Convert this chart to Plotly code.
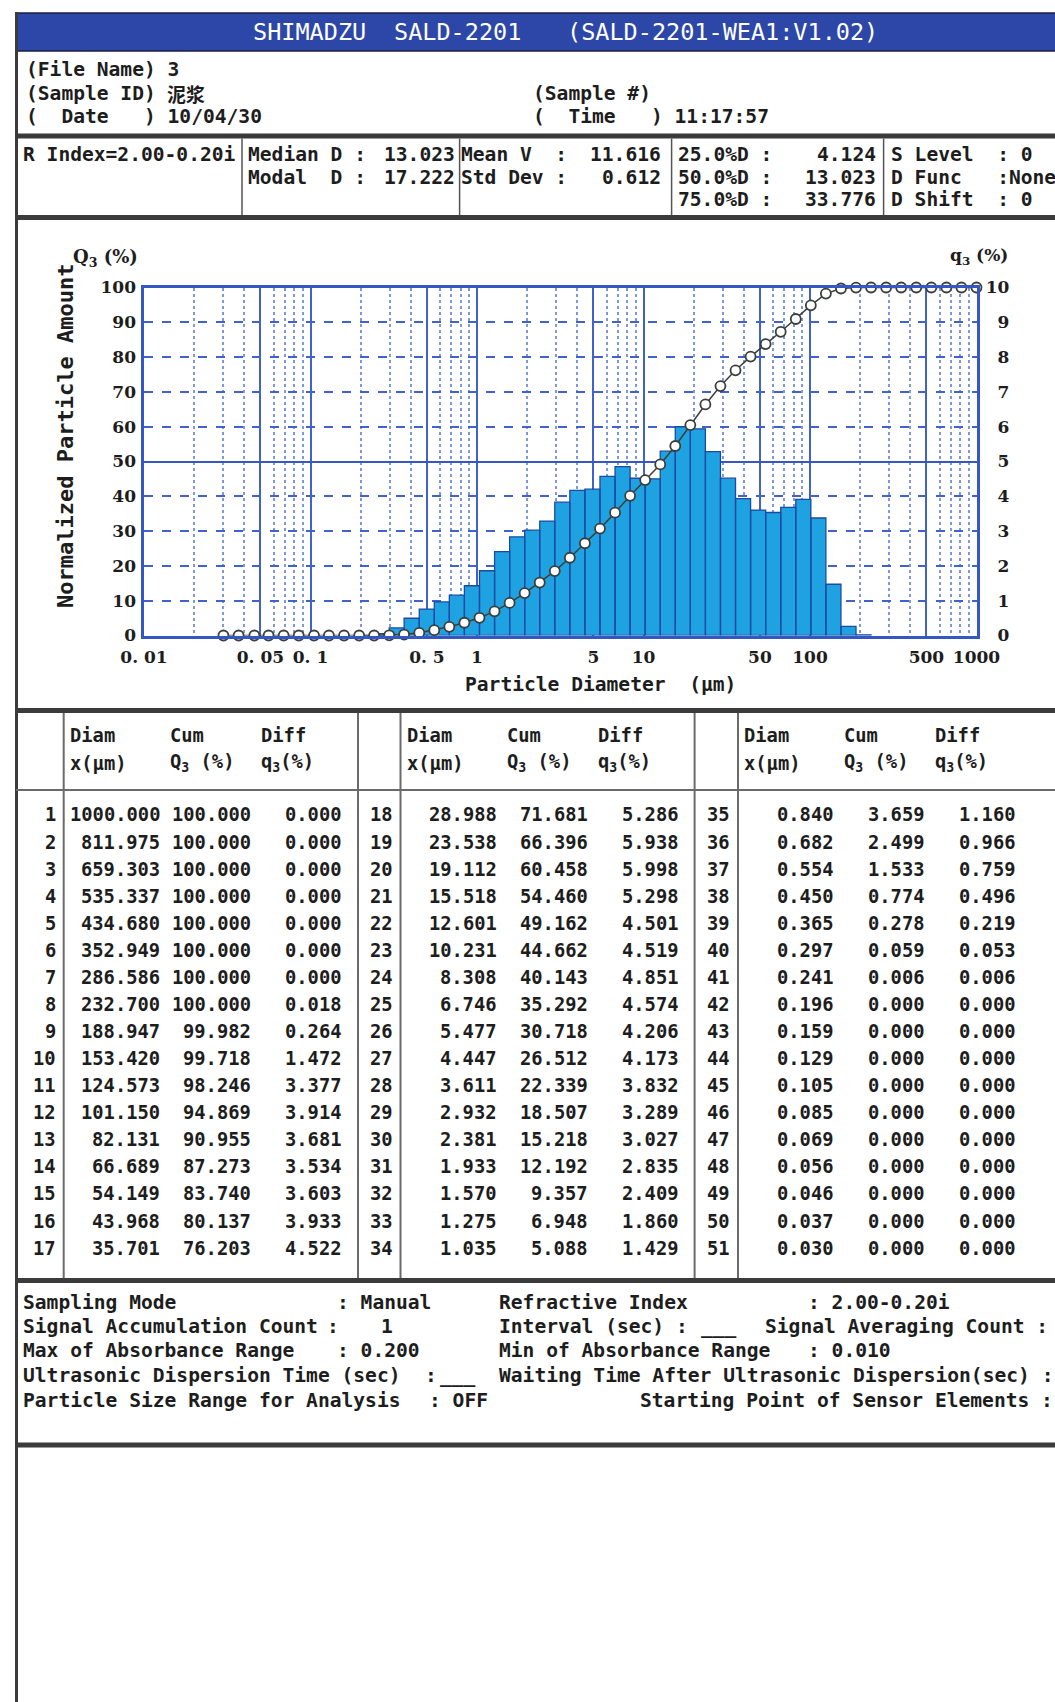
import plotly.graph_objects as go

# ------------------------------------------------------------------
# Particle size distribution, 51 channels (largest to smallest)
# ------------------------------------------------------------------
diam = [1000.000, 811.975, 659.303, 535.337, 434.680, 352.949, 286.586, 232.700, 188.947,
        153.420, 124.573, 101.150, 82.131, 66.689, 54.149, 43.968, 35.701,
        28.988, 23.538, 19.112, 15.518, 12.601, 10.231, 8.308, 6.746, 5.477,
        4.447, 3.611, 2.932, 2.381, 1.933, 1.570, 1.275, 1.035,
        0.840, 0.682, 0.554, 0.450, 0.365, 0.297, 0.241, 0.196, 0.159,
        0.129, 0.105, 0.085, 0.069, 0.056, 0.046, 0.037, 0.030]
cum_q3 = [100.000, 100.000, 100.000, 100.000, 100.000, 100.000, 100.000, 100.000, 99.982,
          99.718, 98.246, 94.869, 90.955, 87.273, 83.740, 80.137, 76.203,
          71.681, 66.396, 60.458, 54.460, 49.162, 44.662, 40.143, 35.292, 30.718,
          26.512, 22.339, 18.507, 15.218, 12.192, 9.357, 6.948, 5.088,
          3.659, 2.499, 1.533, 0.774, 0.278, 0.059, 0.006, 0.000, 0.000,
          0.000, 0.000, 0.000, 0.000, 0.000, 0.000, 0.000, 0.000]
diff_q3 = [0.000, 0.000, 0.000, 0.000, 0.000, 0.000, 0.000, 0.018, 0.264,
           1.472, 3.377, 3.914, 3.681, 3.534, 3.603, 3.933, 4.522,
           5.286, 5.938, 5.998, 5.298, 4.501, 4.519, 4.851, 4.574, 4.206,
           4.173, 3.832, 3.289, 3.027, 2.835, 2.409, 1.860, 1.429,
           1.160, 0.966, 0.759, 0.496, 0.219, 0.053, 0.006, 0.000, 0.000,
           0.000, 0.000, 0.000, 0.000, 0.000, 0.000, 0.000, 0.000]

x_tick_vals = [0.01, 0.05, 0.1, 0.5, 1, 5, 10, 50, 100, 500, 1000]
x_tick_text = ["0. 01", "0. 05", "0. 1", "0. 5", "1", "5", "10", "50", "100", "500", "1000"]
cum_tick_vals = [0, 10, 20, 30, 40, 50, 60, 70, 80, 90, 100]
diff_tick_vals = [0, 1, 2, 3, 4, 5, 6, 7, 8, 9, 10]

# Report header fields
title_parts = ["SHIMADZU", "SALD-2201", "(SALD-2201-WEA1:V1.02)"]
file_name = "3"
sample_id = "泥浆"
run_date = "10/04/30"
run_time = "11:17:57"
r_index = "2.00-0.20i"
median_d, modal_d = "13.023", "17.222"
mean_v, std_dev = "11.616", "0.612"
pct_labels = ["25.0%D", "50.0%D", "75.0%D"]
pct_values = ["4.124", "13.023", "33.776"]

# ------------------------------------------------------------------
# Page geometry helpers (pixel -> paper)
# ------------------------------------------------------------------
W, H = 1055, 1702
MONO = "DejaVu Sans Mono"
SERIF = "DejaVu Serif"
CJK = "Noto Sans CJK SC"

INK = "#1d1d1d"
BLUE_BAR = "#2d47a8"
AXIS = "#3557c4"
GRID = "#3f62cc"
GRID_MINOR = "#7f97e0"
BAR = "#1ea2e2"
BAR_EDGE = "#1b4aa0"
CURVE = "#3a3f3c"
RULE = "#3b3b3b"
THIN = "#6a6a6a"


def fx(x):
    return x / W


def fy(y):
    return 1 - y / H


annotations = []
shapes = []


def label(x, y, s, size=19.6, family=MONO, anchor="left", color=INK, angle=0, weight="bold"):
    if "<" not in s:
        s = s.replace(" ", "\u00a0")
    annotations.append(dict(
        xref="paper", yref="paper", x=fx(x), y=fy(y), text=s, showarrow=False,
        xanchor=anchor, yanchor="middle", borderpad=0, textangle=angle,
        font=dict(family=family, size=size, color=color, weight=weight)))


def hrule(y, x0, x1, w, c):
    shapes.append(dict(type="line", xref="paper", yref="paper", x0=fx(x0), x1=fx(x1),
                       y0=fy(y), y1=fy(y), line=dict(color=c, width=w)))


def vrule(x, y0, y1, w, c):
    shapes.append(dict(type="line", xref="paper", yref="paper", x0=fx(x), x1=fx(x),
                       y0=fy(y0), y1=fy(y1), line=dict(color=c, width=w)))


# ------------------------------------------------------------------
# Frame: title bar, separators, cell rules
# ------------------------------------------------------------------
shapes.append(dict(type="rect", xref="paper", yref="paper", x0=fx(16), x1=fx(1060),
                   y0=fy(51), y1=fy(13), fillcolor=BLUE_BAR,
                   line=dict(color="#1c1f40", width=1.5)))
vrule(16.5, 12, H, 3, RULE)
for y in [136, 217.5, 710.5, 1280.5, 1445]:
    hrule(y, 16, W, 5, RULE)
for x in [242, 459.6, 671.6, 883.6]:
    vrule(x, 138.5, 215, 1.5, "#555555")
hrule(790, 16, W, 2, THIN)
for x in [63.7, 358, 400.5, 694.6, 738]:
    vrule(x, 713, 1278, 2, THIN)

# Title bar text
for xpos, part in zip([252, 393, 566], title_parts):
    label(xpos, 31.5, part, size=23.5, family=MONO, color="white", weight="normal")

# File information
label(25, 70, f"(File Name) {file_name}")
label(25, 93, "(Sample ID)")
label(166, 93, sample_id, size=19, family=CJK)
label(25, 116, f"(  Date   ) {run_date}")
label(532, 93, "(Sample #)")
label(532, 116, f"(  Time   ) {run_time}")

# Summary statistics
label(22, 155, f"R Index={r_index}")
label(247, 155, "Median D :")
label(456, 155, median_d, anchor="right")
label(247, 177, "Modal  D :")
label(456, 177, modal_d, anchor="right")
label(460, 155, "Mean V  :")
label(662, 155, mean_v, anchor="right")
label(460, 177, "Std Dev :")
label(662, 177, std_dev, anchor="right")
for k, (pl, pv) in enumerate(zip(pct_labels, pct_values)):
    yk = [155, 177, 200][k]
    label(677, yk, f"{pl} :")
    label(877, yk, pv, anchor="right")
label(890, 155, "S Level  : 0")
label(890, 177, "D Func   :None")
label(890, 200, "D Shift  : 0")

# ------------------------------------------------------------------
# Distribution chart
# ------------------------------------------------------------------
bars_x, bars_y = [], []
for i in range(len(diam) - 1):
    if diff_q3[i] > 0:
        lo, hi, h = diam[i + 1], diam[i], diff_q3[i]
        bars_x += [lo, lo, hi, hi, lo, None]
        bars_y += [0, h, h, 0, 0, None]

fig = go.Figure()
fig.add_trace(go.Scatter(
    x=bars_x, y=bars_y, xaxis="x", yaxis="y", mode="lines", fill="toself",
    fillcolor=BAR, line=dict(color=BAR_EDGE, width=1.3), hoverinfo="skip"))
fig.add_trace(go.Scatter(
    x=diam, y=cum_q3, xaxis="x", yaxis="y2", mode="lines+markers",
    line=dict(color=CURVE, width=1.5),
    marker=dict(size=10, color="white", line=dict(color=CURVE, width=1.8)),
    cliponaxis=False, hoverinfo="skip"))
# carrier for the solid mid-scale rule
fig.add_trace(go.Scatter(x=[None], y=[None], xaxis="x", yaxis="y3", hoverinfo="skip"))

minor_vals = [m * 10.0 ** k for k in range(-2, 3) for m in (2, 3, 4, 6, 7, 8, 9)]
tick_font = dict(family=SERIF, size=17, color=INK, weight="bold")
ydom = [fy(635.5), fy(287.5)]

fig.update_layout(
    width=W, height=H, margin=dict(l=0, r=0, t=0, b=0, pad=0, autoexpand=False),
    paper_bgcolor="white", plot_bgcolor="white", showlegend=False,
    xaxis=dict(
        type="log", domain=[fx(144), fx(976.5)], range=[-2, 3], automargin=False,
        tickmode="array", tickvals=x_tick_vals, ticktext=x_tick_text, tickfont=tick_font,
        ticks="", ticklabelstandoff=4,
        showgrid=True, gridcolor=GRID, gridwidth=2,
        minor=dict(tickmode="array", tickvals=minor_vals, showgrid=True,
                   gridcolor=GRID_MINOR, griddash="dot", gridwidth=1.5, ticks=""),
        showline=True, mirror=True, linecolor=AXIS, linewidth=2.5, zeroline=False),
    yaxis=dict(
        domain=ydom, range=[0, 10], side="right", automargin=False,
        tickmode="array", tickvals=diff_tick_vals,
        ticktext=[("\u2007" + str(v)) if v < 10 else str(v) for v in diff_tick_vals],
        tickfont=tick_font, ticks="", ticklabelstandoff=3,
        showgrid=True, gridcolor=GRID, griddash="dash", gridwidth=1.5,
        showline=True, mirror=True, linecolor=AXIS, linewidth=2.5, zeroline=False),
    yaxis2=dict(
        overlaying="y", side="left", range=[0, 100], anchor="x", automargin=False,
        tickmode="array", tickvals=cum_tick_vals, tickfont=tick_font,
        ticks="", ticklabelstandoff=7, showgrid=False, zeroline=False, showline=False),
    yaxis3=dict(
        overlaying="y", side="left", range=[0, 10], anchor="x", automargin=False,
        tickmode="array", tickvals=[5], showticklabels=False, ticks="",
        showgrid=True, gridcolor=AXIS, gridwidth=2, zeroline=False, showline=False),
)

label(72, 258, "Q<sub>3</sub> (%)", size=18, family=SERIF)
label(949, 257, "q<sub>3</sub> (%)", size=17, family=SERIF)
label(65, 436, "Normalized Particle Amount", size=22, angle=-90, anchor="center")
label(600, 684, "Particle Diameter  (μm)", size=19.6, anchor="center")

# ------------------------------------------------------------------
# Data table (three blocks of 17 rows)
# ------------------------------------------------------------------
TSIZE = 18.8
for b in range(3):
    off = 337 * b
    label(69 + off, 735, "Diam", size=TSIZE)
    label(169 + off, 735, "Cum", size=TSIZE)
    label(260 + off, 735, "Diff", size=TSIZE)
    label(69 + off, 763, "x(μm)", size=TSIZE)
    label(169 + off, 763, "Q<sub>3</sub> (%)", size=TSIZE)
    label(260 + off, 763, "q<sub>3</sub>(%)", size=TSIZE)

for i in range(len(diam)):
    b, r = divmod(i, 17)
    off = 337 * b
    y = 815 + r * 27.07
    label(57 + off, y, str(i + 1), size=TSIZE, anchor="right")
    label(161 + off, y, f"{diam[i]:.3f}", size=TSIZE, anchor="right")
    label(252 + off, y, f"{cum_q3[i]:.3f}", size=TSIZE, anchor="right")
    label(343 + off, y, f"{diff_q3[i]:.3f}", size=TSIZE, anchor="right")

# ------------------------------------------------------------------
# Measurement conditions
# ------------------------------------------------------------------
rows_y = [1302, 1326, 1350.5, 1375.5, 1400.5]
label(22, rows_y[0], "Sampling Mode")
label(336, rows_y[0], ": Manual")
label(22, rows_y[1], "Signal Accumulation Count")
label(326, rows_y[1], ":")
label(380, rows_y[1], "1")
label(22, rows_y[2], "Max of Absorbance Range")
label(336, rows_y[2], ": 0.200")
label(22, rows_y[3], "Ultrasonic Dispersion Time (sec)")
label(424, rows_y[3], ":")
label(439, rows_y[3], "___")
label(22, rows_y[4], "Particle Size Range for Analysis")
label(428, rows_y[4], ": OFF")

label(498, rows_y[0], "Refractive Index")
label(807, rows_y[0], f": {r_index}")
label(498, rows_y[1], "Interval (sec) :")
label(700, rows_y[1], "___")
label(764, rows_y[1], "Signal Averaging Count :")
label(498, rows_y[2], "Min of Absorbance Range")
label(807, rows_y[2], ": 0.010")
label(498, rows_y[3], "Waiting Time After Ultrasonic Dispersion(sec) :")
label(639, rows_y[4], "Starting Point of Sensor Elements :")

fig.update_layout(annotations=annotations, shapes=shapes)
fig.write_html("out.html")
